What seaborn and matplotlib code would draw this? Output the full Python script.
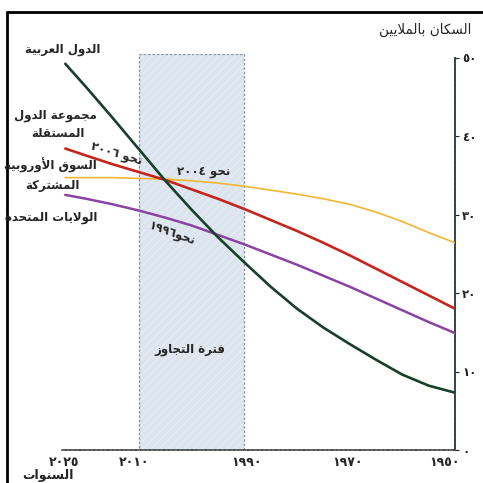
import re
import numpy as np
import pandas as pd
import matplotlib
matplotlib.use("Agg")
import matplotlib.pyplot as plt
import matplotlib.transforms as mtransforms
from matplotlib.lines import Line2D
from matplotlib.patches import Rectangle
import seaborn as sns

# ---------------- data ----------------
years = [1950, 1955, 1960, 1965, 1970, 1975, 1980, 1985, 1990, 1995, 2000, 2005, 2010, 2015, 2020, 2024]
arab_states = [73, 82, 96, 115, 135, 156, 180, 208, 239, 271, 306, 343, 383, 423, 462, 492]
cis_states = [180, 197, 214, 231, 248, 264, 279, 293, 307, 320, 332, 344, 354, 364, 375, 384]
eu_market = [264, 277, 291, 303, 313, 320, 326, 331, 336, 340, 343, 345, 346, 347, 347, 347]
usa = [149, 163, 178, 193, 208, 222, 236, 249, 262, 274, 286, 296, 305, 313, 320, 325]

series_names = ["الدول العربية", "مجموعة الدول المستقلة", "السوق الأوروبية المشتركة", "الولايات المتحدة"]
x_ticks = [2025, 2010, 1990, 1970, 1950]
x_tick_labels = ["٢٠٢٥", "٢٠١٠", "١٩٩٠", "١٩٧٠", "١٩٥٠"]
y_ticks = [0, 100, 200, 300, 400, 500]
y_tick_labels = ["٠", "١٠", "٢٠", "٣٠", "٤٠", "٥٠"]
overlap_start, overlap_end = 1990, 2010

# ---------------- simple Arabic shaping ----------------
FORMS = {
    'ا': ('\uFE8D', '\uFE8E', None, None),
    'أ': ('\uFE83', '\uFE84', None, None),
    'ب': ('\uFE8F', '\uFE90', '\uFE91', '\uFE92'),
    'ة': ('\uFE93', '\uFE94', None, None),
    'ت': ('\uFE95', '\uFE96', '\uFE97', '\uFE98'),
    'ج': ('\uFE9D', '\uFE9E', '\uFE9F', '\uFEA0'),
    'ح': ('\uFEA1', '\uFEA2', '\uFEA3', '\uFEA4'),
    'د': ('\uFEA9', '\uFEAA', None, None),
    'ر': ('\uFEAD', '\uFEAE', None, None),
    'ز': ('\uFEAF', '\uFEB0', None, None),
    'س': ('\uFEB1', '\uFEB2', '\uFEB3', '\uFEB4'),
    'ش': ('\uFEB5', '\uFEB6', '\uFEB7', '\uFEB8'),
    'ع': ('\uFEC9', '\uFECA', '\uFECB', '\uFECC'),
    'ف': ('\uFED1', '\uFED2', '\uFED3', '\uFED4'),
    'ق': ('\uFED5', '\uFED6', '\uFED7', '\uFED8'),
    'ك': ('\uFED9', '\uFEDA', '\uFEDB', '\uFEDC'),
    'ل': ('\uFEDD', '\uFEDE', '\uFEDF', '\uFEE0'),
    'م': ('\uFEE1', '\uFEE2', '\uFEE3', '\uFEE4'),
    'ن': ('\uFEE5', '\uFEE6', '\uFEE7', '\uFEE8'),
    'و': ('\uFEED', '\uFEEE', None, None),
    'ي': ('\uFEF1', '\uFEF2', '\uFEF3', '\uFEF4'),
    'LA': ('\uFEFB', '\uFEFC', None, None),
    'LAH': ('\uFEF7', '\uFEF8', None, None),
}
DIGITS = "0123456789\u0660\u0661\u0662\u0663\u0664\u0665\u0666\u0667\u0668\u0669"


def ar(text):
    merged = []
    i = 0
    while i < len(text):
        c = text[i]
        if c == 'ل' and i + 1 < len(text) and text[i + 1] in ('ا', 'أ'):
            merged.append('LA' if text[i + 1] == 'ا' else 'LAH')
            i += 2
        else:
            merged.append(c)
            i += 1

    def dual(c):
        return c in FORMS and FORMS[c][2] is not None

    res = []
    for k, c in enumerate(merged):
        if c not in FORMS:
            res.append(c)
            continue
        prev = merged[k - 1] if k > 0 else None
        nxt = merged[k + 1] if k + 1 < len(merged) else None
        jp = prev is not None and dual(prev)
        jn = dual(c) and nxt is not None and nxt in FORMS
        iso, fin, ini, med = FORMS[c]
        if jp and jn:
            res.append(med)
        elif jp:
            res.append(fin)
        elif jn:
            res.append(ini)
        else:
            res.append(iso)
    s = ''.join(res)
    runs = re.findall('[' + DIGITS + ']+|[^' + DIGITS + ']+', s)
    return ''.join(r if r[0] in DIGITS else r[::-1] for r in reversed(runs))


# ---------------- figure ----------------
sns.set_style("white")
plt.rcParams['font.family'] = ['DejaVu Sans']
plt.rcParams['hatch.linewidth'] = 0.6

W = 483
fig = plt.figure(figsize=(4.83, 4.83), dpi=100)
ax_left, ax_right = 60, 455
ax_bottom_px = 450
ymax = 505
px_per_unit = 0.785
ax_top_px = ax_bottom_px - ymax * px_per_unit
ax = fig.add_axes([ax_left / W, 1 - ax_bottom_px / W, (ax_right - ax_left) / W, (ax_bottom_px - ax_top_px) / W])

df = pd.DataFrame({
    "year": years * 4,
    "value": arab_states + cis_states + eu_market + usa,
    "series": sum([[n] * len(years) for n in series_names], []),
})
palette = {
    series_names[0]: "#17402a",
    series_names[1]: "#c4261d",
    series_names[2]: "#f2b632",
    series_names[3]: "#8b43a3",
}
widths = {series_names[0]: 1.9, series_names[1]: 1.9, series_names[2]: 1.2, series_names[3]: 1.8}

# overlap band: fill with faint texture, then dashed border
ax.add_patch(Rectangle((overlap_end, 0), overlap_start - overlap_end, ymax,
                       facecolor="#dce5ee", edgecolor="#e8eef4", linewidth=0,
                       hatch="////", zorder=0))
ax.add_patch(Rectangle((overlap_end, 0), overlap_start - overlap_end, ymax,
                       fill=False, edgecolor="#8795a0", linestyle=(0, (2, 1.5)),
                       linewidth=0.9, zorder=1))

for name in [series_names[2], series_names[3], series_names[1], series_names[0]]:
    sub = df[df["series"] == name]
    sns.lineplot(data=sub, x="year", y="value", color=palette[name], linewidth=widths[name],
                 ax=ax, legend=False, zorder=3)

ax.set_xlim(2025, 1950)
ax.set_ylim(0, ymax)
ax.set_xlabel("")
ax.set_ylabel("")

for s in ["top", "left"]:
    ax.spines[s].set_visible(False)
ax.spines["right"].set_bounds(0, 500)
ax.spines["right"].set_color("#33474a")
ax.spines["right"].set_linestyle((0, (2, 0.8)))
ax.spines["right"].set_linewidth(1.4)
ax.spines["bottom"].set_bounds(2024.6, 1950)
ax.spines["bottom"].set_color("#4a4a4a")
ax.spines["bottom"].set_linestyle((0, (2, 0.8)))
ax.spines["bottom"].set_linewidth(1.2)

ax.yaxis.tick_right()
ax.set_yticks(y_ticks)
ax.set_yticklabels(y_tick_labels, fontsize=8.5, fontweight="bold")
ax.tick_params(axis="y", direction="out", length=3, width=0.8, pad=2, colors="#222222")
ax.set_xticks(x_ticks)
ax.set_xticklabels(x_tick_labels, fontsize=9, fontweight="bold")
ax.tick_params(axis="x", length=0, pad=4)
# nudge x tick labels to where the reference prints them
x_offsets_px = [4, -5, 2, -2, -11]
for lbl, dx in zip(ax.get_xticklabels(), x_offsets_px):
    lbl.set_transform(lbl.get_transform() + mtransforms.ScaledTranslation(dx / 100, 0, fig.dpi_scale_trans))


def ftext(x, y, s, **kw):
    kw.setdefault("fontweight", "bold")
    kw.setdefault("fontsize", 8.5)
    kw.setdefault("ha", "center")
    kw.setdefault("va", "center")
    fig.text(x / W, 1 - y / W, ar(s), **kw)


ftext(63, 50, "الدول العربية")
ftext(97, 115, "مجموعة الدول", ha="right")
ftext(58, 134, "المستقلة")
ftext(97, 165, "السوق الأوروبية", ha="right")
ftext(52, 185, "المشتركة")
ftext(97, 218, "الولايات المتحدة", ha="right")
ftext(116, 155, "نحو ٢٠٠٦", rotation=-17)
ftext(204, 171, "نحو ٢٠٠٤")
ftext(172, 234, "نحو١٩٩٦", rotation=-20)
ftext(190, 350, "فترة التجاوز")
ftext(425, 30, "السكان بالملايين", fontsize=9.8, fontweight="normal")
ftext(48, 476, "السنوات", fontsize=9)

# outer frame (cropped page border)
fig.add_artist(Line2D([7 / W, 7 / W], [0, 1 - 12 / W], color="black", linewidth=2, transform=fig.transFigure))
fig.add_artist(Line2D([7 / W, 1], [1 - 12 / W, 1 - 12 / W], color="black", linewidth=2, transform=fig.transFigure))

fig.savefig("out.png", dpi=100)
